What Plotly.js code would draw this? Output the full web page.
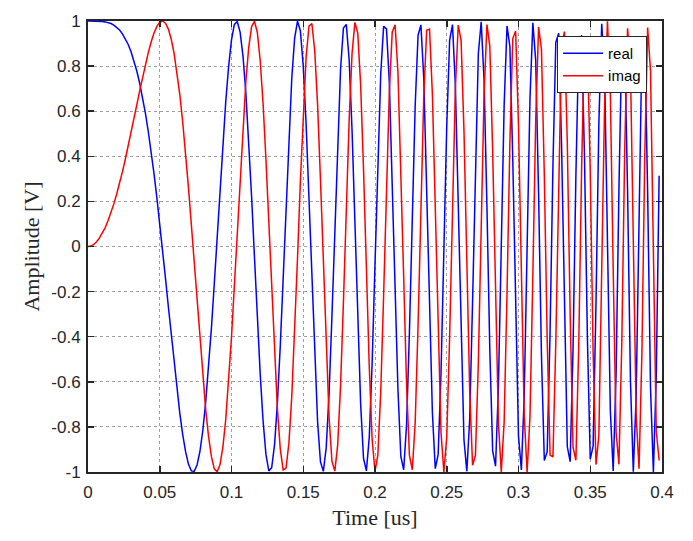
<!DOCTYPE html>
<html><head><meta charset="utf-8">
<script src="https://cdn.plot.ly/plotly-3.0.1.min.js"></script>
<style>html,body{margin:0;padding:0;background:#fff}</style>
</head><body>
<div id="chart" style="width:693px;height:541px"></div>
<script>
// sample start and spacing (us)
const T0 = 0;
const DT = 0.002;

const realVals = [
1, 1, 1, 1, 0.999, 0.998, 0.996, 0.993, 0.989, 0.982,
0.973, 0.960, 0.943, 0.922, 0.896, 0.864, 0.825, 0.778, 0.724, 0.662,
0.591, 0.510, 0.421, 0.323, 0.216, 0.103, -0.017, -0.141, -0.267, -0.393,
-0.516, -0.633, -0.741, -0.834, -0.910, -0.965, -0.995, -0.997, -0.969, -0.909,
-0.816, -0.692, -0.540, -0.362, -0.165, 0.043, 0.254, 0.457, 0.643, 0.799,
0.916, 0.985, 0.998, 0.951, 0.845, 0.682, 0.470, 0.222, -0.046, -0.315,
-0.565, -0.773, -0.922, -0.995, -0.981, -0.879, -0.693, -0.439, -0.136, 0.184,
0.489, 0.746, 0.924, 0.999, 0.957, 0.800, 0.542, 0.212, -0.150, -0.496,
-0.778, -0.955, -0.997, -0.892, -0.651, -0.307, 0.089, 0.476, 0.787, 0.969,
0.985, 0.827, 0.518, 0.109, -0.324, -0.699, -0.940, -0.995, -0.846, -0.519,
-0.079, 0.383, 0.765, 0.976, 0.965, 0.726, 0.312, -0.182, -0.635, -0.931,
-0.990, -0.790, -0.378, 0.140, 0.624, 0.936, 0.983, 0.745, 0.285, -0.265,
-0.737, -0.985, -0.923, -0.565, -0.020, 0.535, 0.914, 0.984, 0.714, 0.190,
-0.405, -0.857, -0.997, -0.765, -0.242, 0.377, 0.854, 0.996, 0.739, 0.180,
-0.457, -0.906, -0.974, -0.624, 0.001, 0.628, 0.978, 0.887, 0.388, -0.295,
-0.842, -0.991, -0.661, -0.006, 0.656, 0.992, 0.825, 0.233, -0.483, -0.949,
-0.910, -0.380, 0.360, 0.905, 0.946, 0.452, -0.303, -0.887, -0.954, -0.456,
0.317, 0.902, 0.937, 0.392, -0.401, -0.943, -0.885, -0.254, 0.546, 0.988,
0.773, 0.035, -0.729, -0.995, -0.569, 0.258, 0.906, 0.906, 0.250, -0.592,
-0.999, -0.663, 0.175, 0.882, 0.914, 0.238, -0.627, -1.000, -0.575, 0.314
];

const imagVals = [
0, 0.002, 0.009, 0.021, 0.038, 0.059, 0.084, 0.115, 0.150, 0.189,
0.233, 0.280, 0.332, 0.387, 0.444, 0.504, 0.566, 0.628, 0.690, 0.750,
0.807, 0.860, 0.907, 0.947, 0.976, 0.995, 1.000, 0.990, 0.964, 0.919,
0.856, 0.774, 0.672, 0.552, 0.414, 0.262, 0.098, -0.073, -0.247, -0.417,
-0.578, -0.722, -0.842, -0.932, -0.986, -0.999, -0.967, -0.889, -0.766, -0.601,
-0.401, -0.174, 0.067, 0.308, 0.535, 0.732, 0.883, 0.975, 0.999, 0.949,
0.825, 0.634, 0.387, 0.104, -0.193, -0.477, -0.721, -0.899, -0.991, -0.983,
-0.872, -0.666, -0.383, -0.052, 0.289, 0.600, 0.840, 0.977, 0.989, 0.868,
0.628, 0.296, -0.082, -0.453, -0.759, -0.952, -0.996, -0.880, -0.617, -0.246,
0.171, 0.562, 0.856, 0.994, 0.946, 0.716, 0.342, -0.104, -0.533, -0.855,
-0.997, -0.924, -0.644, -0.217, 0.264, 0.688, 0.950, 0.983, 0.773, 0.365,
-0.140, -0.613, -0.926, -0.990, -0.781, -0.351, 0.182, 0.667, 0.959, 0.964,
0.675, 0.175, -0.385, -0.825, -1.000, -0.845, -0.405, 0.176, 0.701, 0.982,
0.914, 0.515, -0.077, -0.644, -0.970, -0.926, -0.520, 0.094, 0.674, 0.984,
0.890, 0.423, -0.226, -0.781, -1.000, -0.778, -0.207, 0.462, 0.922, 0.956,
0.539, -0.137, -0.751, -1.000, -0.755, -0.129, 0.565, 0.973, 0.875, 0.316,
-0.414, -0.925, -0.933, -0.425, 0.323, 0.892, 0.953, 0.462, -0.301, -0.890,
-0.948, -0.432, 0.351, 0.920, 0.916, 0.332, -0.467, -0.967, -0.838, -0.154,
0.635, 0.999, 0.684, -0.104, -0.823, -0.966, -0.424, 0.424, 0.968, 0.806,
0.048, -0.749, -0.985, -0.472, 0.406, 0.971, 0.779, -0.031, -0.818, -0.949
];

const seriesNames = ['real', 'imag'];
const xTickVals = [0, 0.05, 0.1, 0.15, 0.2, 0.25, 0.3, 0.35, 0.4];
const xTickText = ['0', '0.05', '0.1', '0.15', '0.2', '0.25', '0.3', '0.35', '0.4'];
const yTickVals = [-1, -0.8, -0.6, -0.4, -0.2, 0, 0.2, 0.4, 0.6, 0.8, 1];
const yTickText = ['-1', '-0.8', '-0.6', '-0.4', '-0.2', '0', '0.2', '0.4', '0.6', '0.8', '1'];

const axisColor = '#262626';
const tickFont = {family: 'Liberation Sans, Arial, sans-serif', size: 17, color: axisColor};
const titleFont = {family: 'Liberation Serif, Times New Roman, serif', size: 22, color: axisColor};

const traces = [
  {type: 'scatter', mode: 'lines', name: seriesNames[0], x0: T0, dx: DT, y: realVals,
   line: {color: '#0000ff', width: 1.5}},
  {type: 'scatter', mode: 'lines', name: seriesNames[1], x0: T0, dx: DT, y: imagVals,
   line: {color: '#ff0000', width: 1.5}}
];

const commonAxis = {
  showline: true, mirror: 'ticks', linecolor: axisColor, linewidth: 2,
  ticks: 'inside', ticklen: 6, tickwidth: 1.5, tickcolor: axisColor,
  showgrid: true, gridcolor: '#a0a0a0', griddash: 'dot', gridwidth: 1,
  zeroline: false, tickfont: tickFont
};

const layout = {
  width: 693, height: 541,
  margin: {l: 88, r: 31, t: 21, b: 69},
  paper_bgcolor: '#ffffff', plot_bgcolor: '#ffffff',
  showlegend: true,
  xaxis: Object.assign({}, commonAxis, {
    range: [0, 0.4], tickmode: 'array', tickvals: xTickVals, ticktext: xTickText,
    ticklabelstandoff: 4,
    title: {text: 'Time [us]', font: titleFont, standoff: 8}
  }),
  yaxis: Object.assign({}, commonAxis, {
    range: [-1, 1], tickmode: 'array', tickvals: yTickVals, ticktext: yTickText,
    ticklabelstandoff: 2,
    title: {text: 'Amplitude [V]', font: titleFont, standoff: 6}
  }),
  legend: {
    x: 0.974, y: 0.967, xanchor: 'right', yanchor: 'top',
    bgcolor: '#ffffff', bordercolor: axisColor, borderwidth: 1,
    font: {family: 'Liberation Sans, Arial, sans-serif', size: 15, color: '#000000'},
    itemwidth: 40, tracegroupgap: 0
  }
};

Plotly.newPlot('chart', traces, layout, {displayModeBar: false, staticPlot: true});
</script>
</body></html>
